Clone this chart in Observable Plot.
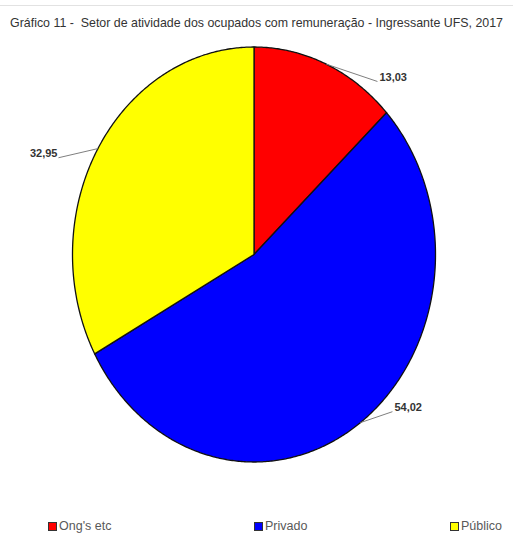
<!DOCTYPE html>
<html>
<head>
<meta charset="utf-8">
<script src="https://cdn.jsdelivr.net/npm/d3@7"></script>
<script src="https://cdn.jsdelivr.net/npm/@observablehq/plot@0.6"></script>
<style>
  html, body { margin: 0; padding: 0; background: #fff; }
  #wrap { width: 513px; height: 533px; position: relative; overflow: hidden; }
  #topline { position: absolute; left: 0; top: 5px; width: 513px; height: 1px; background: #e2e2e2; }
  #title { position: absolute; left: 0; top: 16px; width: 513px; text-align: center;
    font-family: "Liberation Sans", Arial, sans-serif; font-size: 12.4px; color: #333; white-space: pre; }
  #chart { position: absolute; left: 0; top: 35px; }
  #legend { position: absolute; left: 48px; right: 11px; top: 519px; display: flex; justify-content: space-between;
    font-family: "Liberation Sans", Arial, sans-serif; font-size: 12.5px; color: #595959; }
  #legend span.item { display: flex; align-items: center; }
  #legend span.sw { display: inline-block; width: 7px; height: 7px; border: 1px solid #333; margin-right: 2px; }
</style>
</head>
<body>
<div id="wrap">
  <div id="topline"></div>
  <div id="title">Gráfico 11 -  Setor de atividade dos ocupados com remuneração - Ingressante UFS, 2017</div>
  <div id="chart"></div>
  <div id="legend"></div>
</div>
<script>
// ---- data ----
const categories = ["Ong's etc", "Privado", "Público"];
const values = [13.03, 54.02, 32.95];
const colors = ["#FF0000", "#0000FF", "#FFFF00"];

// label leader-end placement (polar, in unit-pie coords) and text anchors
const labelAngles = [39.2, 134.8, 293.4];
const labelRadii = [1.076, 1.075, 1.174];
const labelAnchors = ["start", "start", "end"];

// ---- build slices ----
const arcs = d3.pie().sort(null).value(d => d)(values);
const polys = [];
arcs.forEach((a, i) => {
  polys.push({key: i, x: 0, y: 0});
  const n = Math.max(2, Math.ceil((a.endAngle - a.startAngle) / (Math.PI / 360)));
  for (let k = 0; k <= n; k++) {
    const t = a.startAngle + (a.endAngle - a.startAngle) * k / n;
    polys.push({key: i, x: Math.sin(t), y: Math.cos(t)});
  }
});

const labels = arcs.map((a, i) => {
  const m = (a.startAngle + a.endAngle) / 2;
  const la = labelAngles[i] * Math.PI / 180;
  return {
    x1: Math.sin(m), y1: Math.cos(m),
    x2: labelRadii[i] * Math.sin(la), y2: labelRadii[i] * Math.cos(la),
    text: values[i].toFixed(2).replace(".", ","),
    anchor: labelAnchors[i]
  };
});

const cy = 219, rx = 181.5, ry = 207.5, cx = 253.5;
const chart = Plot.plot({
  width: 513,
  height: 470,
  margin: 0,
  x: {domain: [-1, 1], range: [cx - rx, cx + rx], axis: null},
  y: {domain: [-1, 1], range: [cy + ry, cy - ry], axis: null},
  color: {domain: [0, 1, 2], range: colors},
  marks: [
    Plot.line(polys, {x: "x", y: "y", z: "key", fill: "key", stroke: "#111", strokeWidth: 1.3, curve: "linear-closed"}),
    Plot.link(labels, {x1: "x1", y1: "y1", x2: "x2", y2: "y2", stroke: "#7f7f7f", strokeWidth: 1}),
    Plot.text(labels.filter(d => d.anchor === "start"), {x: "x2", y: "y2", text: "text", textAnchor: "start", dx: 2, dy: -4,
      fontSize: 11, fontWeight: "bold", fill: "#333", fontFamily: "Liberation Sans, Arial, sans-serif"}),
    Plot.text(labels.filter(d => d.anchor === "end"), {x: "x2", y: "y2", text: "text", textAnchor: "end", dx: -1, dy: -4,
      fontSize: 11, fontWeight: "bold", fill: "#333", fontFamily: "Liberation Sans, Arial, sans-serif"})
  ]
});
document.getElementById("chart").appendChild(chart);

const legend = document.getElementById("legend");
categories.forEach((c, i) => {
  const item = document.createElement("span");
  item.className = "item";
  const sw = document.createElement("span");
  sw.className = "sw";
  sw.style.background = colors[i];
  item.appendChild(sw);
  item.appendChild(document.createTextNode(c));
  legend.appendChild(item);
});
</script>
</body>
</html>
